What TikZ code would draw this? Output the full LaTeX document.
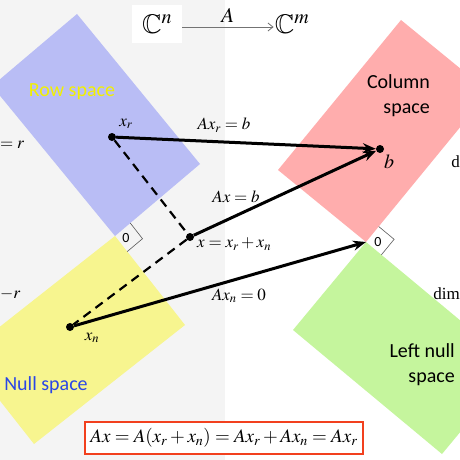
\documentclass[tikz,border=0pt]{standalone}
\usepackage{amsmath}
\usepackage{amssymb}
\usepackage{mathptmx}
\usepackage{fontspec}
\setmainfont{Liberation Serif}
\setsansfont{Carlito}
\usepackage{tikz}
\usetikzlibrary{
	arrows.meta,
	positioning,
	calc
}

\definecolor{rowblue}{HTML}{B9BDF5}
\definecolor{nullyellow}{HTML}{F7F58F}
\definecolor{colpink}{HTML}{FFADAD}
\definecolor{leftgreen}{HTML}{C5F59D}
\definecolor{bggray}{HTML}{F4F4F4}
\definecolor{boxred}{HTML}{F2401E}
\definecolor{nullblue}{HTML}{2A46E6}
\definecolor{rowyellow}{HTML}{F2F000}

\begin{document}
\begin{tikzpicture}[
			x=1pt, y=-1pt,
			>=Stealth,
			spacetext/.style={font=\fontsize{20}{25}\selectfont\sffamily, align=right, inner sep=0pt},
			lbl/.style={font=\fontsize{17}{19}\selectfont, inner sep=0pt},
			dot/.style={circle, fill=black, inner sep=0pt, minimum size=8pt},
			vec/.style={-{Stealth[length=13pt, width=10pt]}, line width=3pt},
			comp/.style={line width=2.2pt, dash pattern=on 9pt off 6pt},
			ortho/.style={draw=black!65, line width=0.6pt},
			zero/.style={font=\fontsize{14}{16}\selectfont\sffamily, inner sep=0pt}
		]
		\useasboundingbox (0,0) rectangle (460,460);
		\clip (0,0) rectangle (460,460);

		% fond et sous-espaces
		\fill[bggray] (0,0) rectangle (225,460);
		\coordinate (o1) at (115,236);
		\coordinate (o2) at (366,242);
		\fill[rowblue] (o1) -- (200,164) -- (77,14) -- (-8,86) -- cycle;
		\fill[nullyellow] (o1) -- (185,325) -- (34,444) -- (-36,355) -- cycle;
		\fill[colpink] (o2) -- (278,170) -- (401,20) -- (489,92) -- cycle;
		\fill[leftgreen] (o2) -- (293,330) -- (442,454) -- (515,366) -- cycle;

		\node[spacetext, text=rowyellow] (rowlbl) at (72,92) {Row space};
		\node[spacetext, text=nullblue] (nulllbl) at (46,385) {Null space};
		\node[spacetext, anchor=east] (collbl) at (430,96) {Column\\space};
		\node[spacetext, anchor=east] (leftlbl) at (455,365) {Left null\\space};

		% angles droits
		\draw[ortho] (130.3,223.1) -- (142.5,238.7) -- (127.2,251.6);
		\node[zero] (z1) at (126,238) {0};
		\draw[ortho] (378.7,226.5) -- (394.1,239.3) -- (381.4,254.8);
		\node[zero] (z2) at (378,242) {0};

		% application A
		\node[fill=white, minimum width=50pt, minimum height=38pt, inner sep=0pt,
			font=\fontsize{27}{29}\selectfont] (cn) at (157,24) {$\mathbb{C}^n$};
		\node[inner sep=1pt, font=\fontsize{27}{29}\selectfont] (cm) at (292,24) {$\mathbb{C}^m$};
		\draw[-{Straight Barb[length=5pt, width=8pt]}, black!55, line width=0.8pt]
		(cn.east |- 0,27) -- node[above=1pt, text=black, font=\fontsize{21}{23}\selectfont] {$A$} (cm.west |- 0,27);

		% vecteurs
		\node[dot] (xr) at (112,137) {};
		\node[dot] (x) at (190,237) {};
		\node[dot] (xn) at (70,327) {};
		\node[dot] (b) at (380,149) {};

		\draw[comp] (xr) -- (x) -- (xn);
		\draw[vec] (xr) -- (b);
		\draw[vec] (x) -- (b);
		\draw[vec] (xn) -- (o2);

		\node[lbl] (xrlbl) at (126,124) {$x_r$};
		\node[lbl] (axrlbl) at (224,125) {$Ax_r = b$};
		\node[lbl] (axlbl) at (236,197) {$Ax = b$};
		\node[lbl, anchor=west] (xlbl) at (197,244) {$x = x_r + x_n$};
		\node[lbl] (axnlbl) at (239,296) {$Ax_n = 0$};
		\node[lbl] (xnlbl) at (92,338) {$x_n$};
		\node[lbl, font=\fontsize{20}{22}\selectfont] (blbl) at (389,162) {$b$};

		% dimensions au bord
		\node[lbl, anchor=west] (dimrow) at (0,145) {$=r$};
		\node[lbl, anchor=west] (dimnull) at (0,294) {$-r$};
		\node[lbl, anchor=east] (dimcol) at (460,162) {d};
		\node[lbl, anchor=east] (dimleft) at (460,294) {dim};

		\node[draw=boxred, line width=1.5pt, fill=white, minimum width=278pt, minimum height=32pt,
			font=\fontsize{19}{22}\selectfont] (eq) at (224,438)
		{$Ax = A(x_r + x_n) = Ax_r + Ax_n = Ax_r$};
	\end{tikzpicture}
\end{document}
